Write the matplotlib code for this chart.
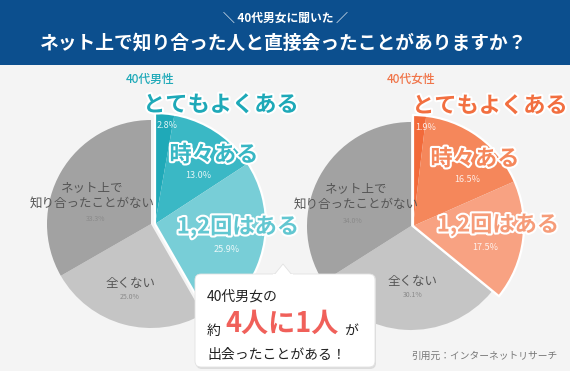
import matplotlib
matplotlib.use("Agg")
import matplotlib.pyplot as plt
from matplotlib.patches import Rectangle, Wedge, FancyBboxPatch, Polygon
import matplotlib.patheffects as pe

plt.rcParams['font.family'] = ['Noto Sans CJK JP', 'DejaVu Sans']

# ---- data ----
categories = ["とてもよくある", "時々ある", "1,2回はある", "全くない", "ネット上で\n知り合ったことがない"]
male = [2.8, 13.0, 25.9, 25.0, 33.3]
female = [1.9, 16.5, 17.5, 30.1, 34.0]
group_titles = ["40代男性", "40代女性"]
header_sub = "＼ 40代男女に聞いた ／"
header_title = "ネット上で知り合った人と直接会ったことがありますか？"
source = "引用元：インターネットリサーチ"

W, H = 570, 371
def Y(y):
    return H - y

fig = plt.figure(figsize=(W / 100, H / 100), dpi=100, facecolor='#f4f4f4')
ax = fig.add_axes([0, 0, 1, 1])

teal = ['#1fa9b8', '#3ab8c5', '#78ced7']
orange = ['#f26a3a', '#f5875b', '#f8a282']
grays = ['#c5c5c5', '#a2a2a2']

pies = [
    dict(vals=male, cols=teal + grays, c=(151, 224), c2=(155, 224), title_col='#1ea9b8',
         label_cols=['#1ea9b8', '#38b7c4', '#62c7d1'],
         title_xy=(150, 79),
         lab_xy=[(221, 105), (214, 155), (238, 227)],
         pct_xy=[(167, 125), (198, 176), (227, 250)],
         gray_lab=[(131, 283), (92, 195)], gray_pct=[(130, 297), (96, 219)]),
    dict(vals=female, cols=orange + grays, c=(411, 226), c2=(413, 226), title_col='#f07448',
         label_cols=['#f26f40', '#f5875b', '#f69c79'],
         title_xy=(411, 79),
         lab_xy=[(490, 106), (475, 159), (498, 225)],
         pct_xy=[(426, 127), (467, 180), (485, 247)],
         gray_lab=[(413, 282), (356, 196)], gray_pct=[(413, 295), (353, 221)]),
]

for k, p in enumerate(pies):
    cx, cy = p['c']
    wedges, _ = ax.pie(p['vals'], colors=p['cols'], startangle=90, counterclock=False,
                       center=(cx, Y(cy)), radius=104, wedgeprops=dict(linewidth=0))
    colored = sum(p['vals'][:3])
    for w in wedges[:3]:
        w.set_center((p['c2'][0], Y(p['c2'][1])))
        w.set_radius(111)
        w.set_zorder(3)
    th1 = 90 - colored * 3.6
    ax.add_patch(Wedge((p['c2'][0], Y(p['c2'][1])), 111, th1, 90, facecolor='none',
                       edgecolor='white', linewidth=1.6, zorder=4))
    # group title
    ax.text(p['title_xy'][0], Y(p['title_xy'][1]), group_titles[k], color=p['title_col'],
            fontsize=8.5, ha='center', va='center', fontweight='medium')
    # colored labels
    for i in range(3):
        lx, ly = p['lab_xy'][i]
        ax.text(lx, Y(ly), categories[i], color=p['label_cols'][i], fontsize=16,
                fontweight='bold', ha='center', va='center', zorder=6,
                path_effects=[pe.withStroke(linewidth=3, foreground='white')])
        px, py = p['pct_xy'][i]
        ax.text(px, Y(py), f"{p['vals'][i]:.1f}%", color='#ffffff', alpha=0.85, fontsize=6.5,
                ha='center', va='center', zorder=5)
    # gray labels
    for j, i in enumerate([3, 4]):
        gx, gy = p['gray_lab'][j]
        ax.text(gx, Y(gy), categories[i], color='#555555', fontsize=9, ha='center', va='center',
                linespacing=1.25, zorder=5)
        qx, qy = p['gray_pct'][j]
        ax.text(qx, Y(qy), f"{p['vals'][i]:.1f}%", color='#8a8a8a', fontsize=5, ha='center',
                va='center', zorder=5)

# header
ax.add_patch(Rectangle((0, Y(65)), W, 65, facecolor='#0c4f8e', edgecolor='none', zorder=1))
ax.text(W / 2, Y(18), header_sub, color='white', fontsize=8.5, fontweight='bold',
        ha='center', va='center', zorder=2)
ax.text(W / 2 - 1, Y(43), header_title, color='white', fontsize=13.5, fontweight='bold',
        ha='center', va='center', zorder=2)

# callout box
ax.add_patch(FancyBboxPatch((196, Y(369)), 180, 95, boxstyle='round,pad=0,rounding_size=6',
                            facecolor='#dcdcdc', edgecolor='none', zorder=7))
ax.add_patch(FancyBboxPatch((195, Y(367)), 180, 93, boxstyle='round,pad=0,rounding_size=6',
                            facecolor='white', edgecolor='#e2e2e2', linewidth=0.6, zorder=8))
ax.add_patch(Polygon([(274, Y(275)), (283, Y(264)), (292, Y(275))], closed=True,
                     facecolor='white', edgecolor='#e2e2e2', linewidth=0.6, zorder=8))
ax.add_patch(Rectangle((273, Y(276.5)), 20, 2.5, facecolor='white', edgecolor='none', zorder=9))
ax.text(207, Y(297), "40代男女の", color='#222222', fontsize=10, ha='left', va='center', zorder=10)
ax.text(207, Y(331), "約", color='#222222', fontsize=10, ha='left', va='center', zorder=10)
ax.text(225, Y(324), "4人に1人", color='#f0605a', fontsize=19.5, fontweight='bold', ha='left',
        va='center', zorder=10)
ax.text(344, Y(331), "が", color='#222222', fontsize=10, ha='left', va='center', zorder=10)
ax.text(207, Y(355), "出会ったことがある！", color='#222222', fontsize=10, ha='left', va='center',
        zorder=10)

ax.text(558, Y(356), source, color='#777777', fontsize=7, ha='right', va='center', zorder=10)

ax.set_xlim(0, W)
ax.set_ylim(0, H)
ax.set_aspect('equal')
ax.axis('off')

fig.savefig('out.png', dpi=100, facecolor=fig.get_facecolor())
